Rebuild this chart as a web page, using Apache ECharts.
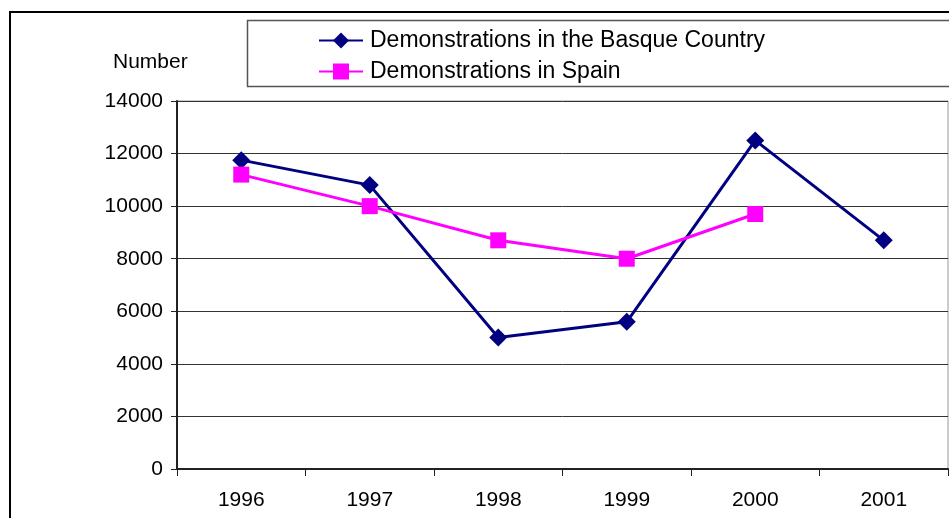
<!DOCTYPE html>
<html>
<head>
<meta charset="utf-8">
<script src="https://cdn.jsdelivr.net/npm/echarts@6/dist/echarts.min.js"></script>
<style>
html,body{margin:0;padding:0;background:#fff;}
#chart{width:949px;height:518px;}
</style>
</head>
<body>
<div id="chart"></div>
<script>
const years = ['1996', '1997', '1998', '1999', '2000', '2001'];
const basque = [11750, 10800, 5000, 5600, 12500, 8700];
const spain = [11200, 10000, 8700, 8000, 9700, '-'];
const seriesNames = ['Demonstrations in the Basque Country', 'Demonstrations in Spain'];
const yAxisTitle = 'Number';

const chart = echarts.init(document.getElementById('chart'));
const baseFont = '"Liberation Sans", Arial, sans-serif';
chart.setOption({
  animation: false,
  backgroundColor: '#fff',
  graphic: [
    { type: 'rect', shape: { x: 10, y: 12, width: 1000, height: 600 }, style: { fill: 'none', stroke: '#000', lineWidth: 2 }, silent: true },
    { type: 'rect', shape: { x: 247.5, y: 20.5, width: 720, height: 66 }, style: { fill: 'none', stroke: '#555', lineWidth: 1.5 }, silent: true },
    { type: 'text', left: 113, top: 52, style: { text: yAxisTitle, font: '21px ' + baseFont, fill: '#000' } }
  ],
  legend: {
    orient: 'vertical',
    left: 318,
    top: 29,
    itemGap: 8,
    itemWidth: 44,
    itemHeight: 20,
    padding: 0,
    textStyle: { fontFamily: baseFont, fontSize: 23, color: '#000', padding: [0, 0, 0, 2] },
    data: seriesNames
  },
  grid: { left: 177, right: 1, top: 101, bottom: 49, show: true, borderColor: '#999', borderWidth: 1 },
  xAxis: {
    type: 'category',
    data: years,
    boundaryGap: true,
    axisLine: { lineStyle: { color: '#222', width: 2 } },
    axisTick: { show: true, length: 7, lineStyle: { color: '#222', width: 1 } },
    axisLabel: { color: '#000', fontSize: 21, fontFamily: baseFont, margin: 21 },
    splitLine: { show: false }
  },
  yAxis: {
    type: 'value',
    min: 0, max: 14000, interval: 2000,
    axisLine: { show: true, lineStyle: { color: '#222', width: 2 } },
    axisTick: { show: true, length: 6, lineStyle: { color: '#222', width: 1 } },
    axisLabel: { color: '#000', fontSize: 21, fontFamily: baseFont, margin: 14, formatter: v => String(v) },
    splitLine: { show: true, lineStyle: { color: '#333', width: 1 } }
  },
  series: [
    {
      name: seriesNames[0], type: 'line', data: basque,
      symbol: 'diamond', symbolSize: 18,
      itemStyle: { color: '#000080' },
      lineStyle: { color: '#000080', width: 3 }
    },
    {
      name: seriesNames[1], type: 'line', data: spain,
      symbol: 'rect', symbolSize: 16,
      itemStyle: { color: '#FF00FF' },
      lineStyle: { color: '#FF00FF', width: 3 }
    }
  ]
});
</script>
</body>
</html>
